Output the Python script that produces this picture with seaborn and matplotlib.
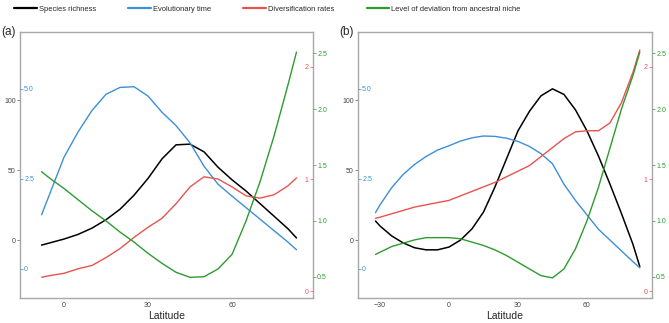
import numpy as np
import pandas as pd
import seaborn as sns
import matplotlib.pyplot as plt
from matplotlib.lines import Line2D

#========================= Data ===============================================
# panel (a)
lat_a = [-8, -5, 0, 5, 10, 15, 20, 25, 30, 35, 40, 45, 50, 55, 60, 65, 70, 75, 80, 83]
rich_a = [-3.6, -2, 0.7, 4, 8.5, 14.5, 22, 32, 44, 58, 68, 68.5, 63, 52, 43, 35, 26, 17, 8, 1.5]
time_a = [1.5, 2.1, 3.1, 3.8, 4.4, 4.85, 5.04, 5.06, 4.8, 4.35, 3.98, 3.5, 2.85, 2.35, 2.02, 1.7, 1.38, 1.06, 0.74, 0.53]
div_a = [0.125, 0.14, 0.16, 0.2, 0.23, 0.3, 0.38, 0.48, 0.57, 0.65, 0.78, 0.93, 1.02, 1.0, 0.93, 0.85, 0.83, 0.86, 0.94, 1.01]
dev_a = [1.44, 1.38, 1.29, 1.19, 1.09, 1.0, 0.9, 0.81, 0.71, 0.62, 0.54, 0.495, 0.5, 0.57, 0.70, 1.0, 1.35, 1.76, 2.22, 2.51]

# panel (b)
lat_b = [-32, -30, -25, -20, -15, -10, -5, 0, 5, 10, 15, 20, 25, 30, 35, 40, 45, 50, 55, 60, 65, 70, 75, 80, 83]
rich_b = [13.6, 10, 3, -2, -5.5, -7, -7, -5, 0, 8, 20, 38, 58, 78, 92, 103, 108, 104, 93, 78, 60, 40, 19, -3, -19]
time_b = [1.56, 1.78, 2.25, 2.62, 2.9, 3.12, 3.3, 3.42, 3.55, 3.64, 3.69, 3.68, 3.63, 3.54, 3.4, 3.2, 2.92, 2.35, 1.9, 1.5, 1.1, 0.8, 0.5, 0.2, 0.03]
div_b = [0.65, 0.66, 0.69, 0.72, 0.75, 0.77, 0.79, 0.81, 0.85, 0.89, 0.93, 0.97, 1.02, 1.07, 1.12, 1.2, 1.28, 1.36, 1.42, 1.43, 1.43, 1.5, 1.68, 1.95, 2.15]
dev_b = [0.7, 0.72, 0.77, 0.8, 0.83, 0.85, 0.85, 0.85, 0.84, 0.81, 0.78, 0.74, 0.69, 0.63, 0.57, 0.51, 0.49, 0.57, 0.75, 1.0, 1.3, 1.65, 2.0, 2.3, 2.51]

series_names = ['Species richness', 'Evolutionary time', 'Diversification rates',
                'Level of deviation from ancestral niche']
colors = ['black', '#3D8FD8', '#E8534F', '#2E9B2E']

rich_ticks = [0, 50, 100]
time_ticks = [0, 2.5, 5.0]
div_ticks = [0, 1, 2]
dev_ticks = [0.5, 1.0, 1.5, 2.0, 2.5]

#========================= Plot ================================================
sns.set_theme(style='white')
plt.rcParams['font.family'] = ['Liberation Sans', 'DejaVu Sans']

fig = plt.figure(figsize=(6.69, 3.23), dpi=100)
W, H = 669, 323
ax_a = fig.add_axes([20 / W, 1 - 298 / H, 293 / W, 266 / H])
ax_b = fig.add_axes([358 / W, 1 - 298 / H, 294 / W, 266 / H])

tick_kw = dict(labelsize=5, length=2, width=0.5, pad=1)


def draw_panel(ax, lat, rich, time, div, dev, xlim, xticks, tag):
    df = pd.DataFrame({'lat': lat, 'rich': rich, 'time': time, 'div': div, 'dev': dev})

    # species richness on the main (left) axis
    sns.lineplot(data=df, x='lat', y='rich', ax=ax, color=colors[0], lw=1.1)
    ax.set_xlim(xlim)
    ax.set_ylim(-41.4, 148.6)
    ax.set_yticks(rich_ticks)
    ax.set_xticks(xticks)
    ax.tick_params(axis='both', colors='#555555', labelcolor='#444444', **tick_kw)
    ax.set_ylabel('')
    ax.set_xlabel('Latitude', fontsize=7.5, labelpad=1)
    for sp in ax.spines.values():
        sp.set_color('#A8A8A8')
        sp.set_linewidth(1.0)

    # evolutionary time: axis drawn just inside the left spine
    tw = ax.twinx()
    sns.lineplot(data=df, x='lat', y='time', ax=tw, color=colors[1], lw=1.0)
    tw.set_ylim(-0.81, 6.58)
    tw.set_yticks(time_ticks)
    tw.set_yticklabels(['0', '2.5', '5.0'])
    tw.spines['right'].set_position(('axes', 0))
    tw.tick_params(axis='y', colors=colors[1], **tick_kw)
    tw.set_ylabel('')

    # diversification rates: axis drawn just inside the right spine
    tr = ax.twinx()
    sns.lineplot(data=df, x='lat', y='div', ax=tr, color=colors[2], lw=1.0)
    tr.set_ylim(-0.06, 2.31)
    tr.yaxis.tick_left()
    tr.spines['left'].set_position(('axes', 1))
    tr.set_yticks(div_ticks)
    tr.tick_params(axis='y', colors=colors[2], **tick_kw)
    tr.set_ylabel('')

    # deviation from ancestral niche: outside right
    tg = ax.twinx()
    sns.lineplot(data=df, x='lat', y='dev', ax=tg, color=colors[3], lw=1.0)
    tg.set_ylim(0.31, 2.69)
    tg.set_yticks(dev_ticks)
    tg.tick_params(axis='y', colors=colors[3], **tick_kw)
    tg.set_ylabel('')

    for t in (tw, tr, tg):
        for sp in t.spines.values():
            sp.set_visible(False)
        t.grid(False)
    ax.grid(False)

    pos = ax.get_position()
    fig.text(pos.x0 - 19 / W, pos.y1 - 6 / H, tag, fontsize=8.5, ha='left', va='bottom')


draw_panel(ax_a, lat_a, rich_a, time_a, div_a, dev_a, (-15.7, 88.9), [0, 30, 60], '(a)')
draw_panel(ax_b, lat_b, rich_b, time_b, div_b, dev_b, (-39.6, 88.3), [-30, 0, 30, 60], '(b)')

handles = [Line2D([], [], color=c, lw=1.6) for c in colors]
fig.legend(handles, series_names, loc='center left', bbox_to_anchor=(14 / W, 1 - 9 / H),
           ncol=4, frameon=False, fontsize=5.4, handlelength=3.0, handletextpad=0.3,
           columnspacing=4.3, borderaxespad=0, borderpad=0)

fig.savefig('out.png', dpi=100)
